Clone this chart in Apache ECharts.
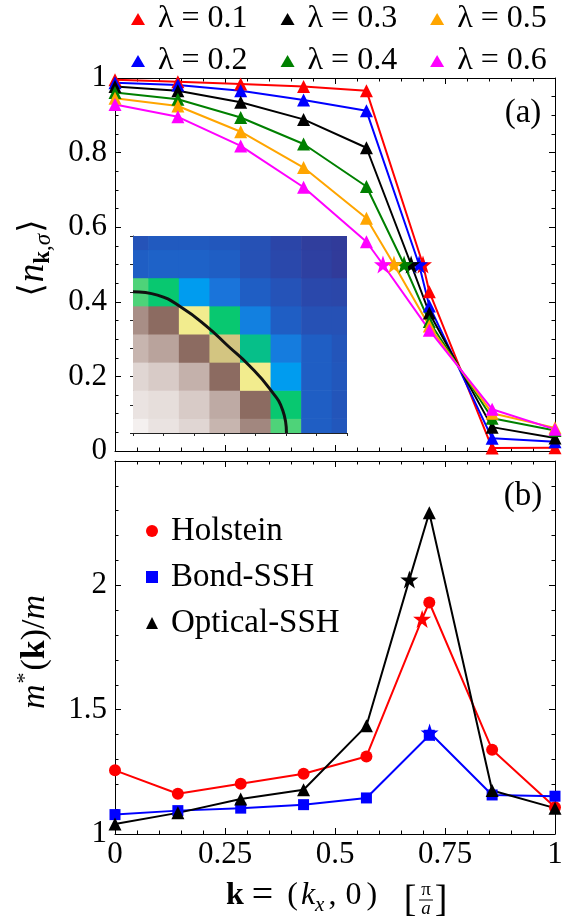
<!DOCTYPE html>
<html><head><meta charset="utf-8">
<script src="https://cdn.jsdelivr.net/npm/echarts@6/dist/echarts.min.js"></script>
<style>html,body{margin:0;padding:0;background:#fff;}#c{width:571px;height:921px;}</style>
</head><body><div id="c"></div>
<script>
// ---------- data ----------
const kGrid = [0, 1/7, 2/7, 3/7, 4/7, 5/7, 6/7, 1];
const lambdaNames = ['λ = 0.1', 'λ = 0.2', 'λ = 0.3', 'λ = 0.4', 'λ = 0.5', 'λ = 0.6'];
const nK_l01 = [0.995, 0.990, 0.984, 0.977, 0.966, 0.427, 0.008, 0.009];
const nK_l02 = [0.987, 0.981, 0.966, 0.941, 0.912, 0.389, 0.034, 0.025];
const nK_l03 = [0.977, 0.966, 0.935, 0.889, 0.813, 0.370, 0.064, 0.035];
const nK_l04 = [0.961, 0.943, 0.894, 0.823, 0.709, 0.347, 0.088, 0.055];
const nK_l05 = [0.946, 0.925, 0.856, 0.760, 0.624, 0.335, 0.101, 0.062];
const nK_l06 = [0.929, 0.896, 0.818, 0.707, 0.561, 0.324, 0.112, 0.058];
const kF_lambda = [0.700, 0.691, 0.673, 0.657, 0.634, 0.609];
const nAtKF = [0.5, 0.5, 0.5, 0.5, 0.5, 0.5];

const modelNames = ['Holstein', 'Bond-SSH', 'Optical-SSH'];
const mHolstein = [1.256, 1.162, 1.202, 1.242, 1.312, 1.931, 1.339, 1.108];
const mBondSSH = [1.078, 1.094, 1.104, 1.118, 1.145, 1.397, 1.157, 1.152];
const mOpticalSSH = [1.040, 1.085, 1.141, 1.178, 1.435, 2.292, 1.175, 1.104];
const kF_model = [0.698, 0.715, 0.669];
const mAtKF = [1.865, 1.408, 2.023];

const xTicksMain = [0, 0.25, 0.5, 0.75, 1];
const yTicksA = [0, 0.2, 0.4, 0.6, 0.8, 1];
const yTicksB = [1, 1.5, 2];

// inset: colour level of each k-point cell (rows ky = 0..7, cols kx = 0..7)
const heatLevels = [
  [0.0, 0.5, 1.0, 1.9, 2.6, 4.7, 8.0, 8.3],
  [0.5, 0.7, 1.3, 2.1, 3.0, 5.0, 8.0, 8.4],
  [1.0, 1.3, 2.0, 3.0, 4.0, 6.0, 8.0, 8.3],
  [1.9, 2.2, 3.0, 3.7, 5.2, 6.8, 8.0, 8.4],
  [2.5, 3.0, 4.0, 5.0, 6.7, 8.0, 8.6, 8.6],
  [4.7, 5.0, 6.0, 7.0, 8.0, 8.5, 9.0, 9.1],
  [8.0, 7.8, 7.8, 8.0, 8.6, 9.0, 9.6, 10.0],
  [8.5, 8.2, 8.2, 8.3, 8.6, 9.2, 9.8, 10.0]
];
const heatColors = ['#f4f0ef','#e0d6d3','#c4b1ab','#8c6b61','#f2ec8e','#08c870','#009cef','#1a74da','#1f5ec4','#2a48ab','#313b9a'];
// Fermi surface contour (grid-index units)
const fsKx = [0, 0.8, 1.6, 2.4, 3.1, 3.8, 4.45, 4.9, 5.02];
const fsKy = [5.02, 4.9, 4.45, 3.8, 3.1, 2.4, 1.6, 0.8, 0];

// ---------- chart ----------
const SERIF = "'Liberation Serif','DejaVu Serif',serif";
const STAR = 'path://M50,2 L61.8,36.2 L97.6,36.2 L68.8,57.6 L79.4,91.8 L50,70.6 L20.6,91.8 L31.2,57.6 L2.4,36.2 L38.2,36.2 Z';
const lamColors = ['#ff0000', '#0000ff', '#000000', '#008000', '#ffa500', '#ff00ff'];
const lamValues = [nK_l01, nK_l02, nK_l03, nK_l04, nK_l05, nK_l06];
const modelValues = [mHolstein, mBondSSH, mOpticalSSH];
const modelColors = ['#ff0000', '#0000ff', '#000000'];
const modelSymbols = ['circle', 'rect', 'triangle'];
const modelSizes = [12, 11, 13];

function lineData(ks, vs, kS, vS, starSize) {
  const pts = ks.map((k, i) => ({ value: [k, vs[i]] }));
  pts.push({ value: [kS, vS], symbol: STAR, symbolSize: starSize });
  pts.sort((a, b) => a.value[0] - b.value[0]);
  return pts;
}

const tickStyle = { color: '#000', width: 1 };
function frameAxis(o) {
  return Object.assign({
    type: 'value',
    splitLine: { show: false },
    axisLine: { onZero: false, lineStyle: { color: '#000', width: 1 } },
    axisTick: { inside: true, length: 6, lineStyle: tickStyle },
    axisLabel: { show: false }
  }, o);
}
const labelStyle = { show: true, fontFamily: SERIF, fontSize: 31, color: '#000' };

const xAxes = [
  frameAxis({ gridIndex: 0, position: 'bottom', min: 0, max: 1, interval: 0.25,
    minorTick: { show: true, splitNumber: 5, length: 3.5, lineStyle: tickStyle } }),
  frameAxis({ gridIndex: 0, position: 'top', min: 0, max: 1, interval: 0.25,
    minorTick: { show: true, splitNumber: 5, length: 3.5, lineStyle: tickStyle } }),
  frameAxis({ gridIndex: 1, position: 'bottom', min: 0, max: 1, interval: 0.25,
    minorTick: { show: true, splitNumber: 5, length: 3.5, lineStyle: tickStyle },
    axisLabel: Object.assign({}, labelStyle, { margin: 5,
      formatter: v => xTicksMain.some(t => Math.abs(t - v) < 1e-9) ? String(v) : '' }) }),
  frameAxis({ gridIndex: 1, position: 'top', min: 0, max: 1, interval: 0.25,
    minorTick: { show: true, splitNumber: 5, length: 3.5, lineStyle: tickStyle } }),
  { gridIndex: 2, type: 'value', min: 0, max: 7, interval: 1, position: 'bottom',
    splitLine: { show: false }, axisLabel: { show: false },
    axisLine: { onZero: false, lineStyle: { color: '#222', width: 1 } },
    axisTick: { inside: false, length: 3, lineStyle: { color: '#222', width: 1 } } }
];
const yAxes = [
  frameAxis({ gridIndex: 0, position: 'left', min: 0, max: 1, interval: 0.2,
    minorTick: { show: true, splitNumber: 4, length: 3.5, lineStyle: tickStyle },
    axisLabel: Object.assign({}, labelStyle, { margin: 8,
      formatter: v => yTicksA.some(t => Math.abs(t - v) < 1e-9) ? String(+v.toFixed(1)) : '' }) }),
  frameAxis({ gridIndex: 0, position: 'right', min: 0, max: 1, interval: 0.2,
    minorTick: { show: true, splitNumber: 4, length: 3.5, lineStyle: tickStyle } }),
  frameAxis({ gridIndex: 1, position: 'left', min: 1, max: 2.5, interval: 0.5,
    minorTick: { show: true, splitNumber: 5, length: 3.5, lineStyle: tickStyle },
    axisLabel: Object.assign({}, labelStyle, { margin: 8,
      formatter: v => yTicksB.some(t => Math.abs(t - v) < 1e-9) ? String(v) : '' }) }),
  frameAxis({ gridIndex: 1, position: 'right', min: 1, max: 2.5, interval: 0.5,
    minorTick: { show: true, splitNumber: 5, length: 3.5, lineStyle: tickStyle } }),
  { gridIndex: 2, type: 'value', min: 0, max: 7, interval: 1, position: 'left',
    splitLine: { show: false }, axisLabel: { show: false },
    axisLine: { onZero: false, lineStyle: { color: '#222', width: 1 } },
    axisTick: { inside: false, length: 3, lineStyle: { color: '#222', width: 1 } } }
];

const series = [];
// inset heat map
const heatData = [];
heatLevels.forEach((row, j) => row.forEach((lv, i) => heatData.push([i, j, lv])));
series.push({
  type: 'custom', xAxisIndex: 4, yAxisIndex: 4, z: 1, silent: true,
  encode: { x: 0, y: 1 },
  data: heatData,
  renderItem: function (params, api) {
    const i = api.value(0), j = api.value(1);
    const p0 = api.coord([i - 0.5, j + 0.5]);
    const p1 = api.coord([i + 0.5, j - 0.5]);
    const cs = params.coordSys;
    const x0 = Math.max(p0[0], cs.x), x1 = Math.min(p1[0] + 0.6, cs.x + cs.width);
    const y0 = Math.max(p0[1] - 0.6, cs.y), y1 = Math.min(p1[1], cs.y + cs.height);
    return { type: 'rect', shape: { x: x0, y: y0, width: x1 - x0, height: y1 - y0 },
      style: { fill: api.visual('color') } };
  }
});
series.push({
  type: 'line', xAxisIndex: 4, yAxisIndex: 4, z: 3, silent: true,
  data: fsKx.map((x, i) => [x, fsKy[i]]),
  smooth: true, showSymbol: false, symbol: 'none',
  lineStyle: { color: '#111', width: 3 }
});
// panel (a)
lamValues.forEach((vals, s) => {
  series.push({
    name: lambdaNames[s], type: 'line', xAxisIndex: 0, yAxisIndex: 0, z: 4,
    data: lineData(kGrid, vals, kF_lambda[s], nAtKF[s], 18),
    symbol: 'triangle', symbolSize: 13,
    itemStyle: { color: lamColors[s] },
    lineStyle: { color: lamColors[s], width: 2 }
  });
});
// panel (b)
modelValues.forEach((vals, s) => {
  series.push({
    name: modelNames[s], type: 'line', xAxisIndex: 2, yAxisIndex: 2, z: 4,
    data: lineData(kGrid, vals, kF_model[s], mAtKF[s], 18),
    symbol: modelSymbols[s], symbolSize: modelSizes[s],
    itemStyle: { color: modelColors[s] },
    lineStyle: { color: modelColors[s], width: 2 }
  });
});

const legText = { fontFamily: SERIF, fontSize: 32, color: '#000', padding: [0, 0, 0, 8], lineHeight: 34 };
const option = {
  animation: false,
  backgroundColor: '#fff',
  grid: [
    { left: 115, top: 78, width: 440, height: 373 },
    { left: 115, top: 461, width: 440, height: 373 },
    { left: 133, top: 236, width: 214, height: 197, z: 1 }
  ],
  xAxis: xAxes,
  yAxis: yAxes,
  visualMap: [{ type: 'continuous', show: false, seriesIndex: 0, dimension: 2, min: 0, max: 10,
    inRange: { color: heatColors } }],
  legend: [
    { data: [lambdaNames[0], lambdaNames[2], lambdaNames[4]], left: 126, top: -3,
      itemWidth: 14, itemHeight: 12, itemGap: 33, icon: 'triangle', selectedMode: false, textStyle: legText },
    { data: [lambdaNames[1], lambdaNames[3], lambdaNames[5]], left: 126, top: 39,
      itemWidth: 14, itemHeight: 12, itemGap: 33, icon: 'triangle', selectedMode: false, textStyle: legText },
    { data: modelNames.map((n, i) => ({ name: n, icon: modelSymbols[i] })), orient: 'vertical',
      left: 141, top: 509, itemWidth: 12, itemHeight: 12, itemGap: 12, selectedMode: false,
      textStyle: { fontFamily: SERIF, fontSize: 33, color: '#000', padding: [0, 0, 0, 8], lineHeight: 34 } }
  ],
  series: series,
  graphic: [
    { type: 'text', x: 523, y: 113, style: { text: '(a)', fontFamily: SERIF, fontSize: 33, fill: '#000', align: 'center', verticalAlign: 'middle' } },
    { type: 'text', x: 523, y: 496, style: { text: '(b)', fontFamily: SERIF, fontSize: 33, fill: '#000', align: 'center', verticalAlign: 'middle' } },
    { type: 'text', x: 33, y: 258, rotation: Math.PI / 2,
      style: { text: '{b|⟨}{n|n}{s|k}{c|,}{g|σ}{b|⟩}', align: 'center', verticalAlign: 'middle', fill: '#000',
        rich: {
          b: { fontFamily: "'DejaVu Serif','DejaVu Sans',serif", fontSize: 34, lineHeight: 44, fill: '#000', padding: [0, 1, 0, 1] },
          n: { fontFamily: SERIF, fontSize: 37, fontStyle: 'italic', lineHeight: 44, fill: '#000' },
          s: { fontFamily: SERIF, fontSize: 23, fontWeight: 'bold', verticalAlign: 'bottom', lineHeight: 23, fill: '#000' },
          c: { fontFamily: SERIF, fontSize: 23, verticalAlign: 'bottom', lineHeight: 23, fill: '#000' },
          g: { fontFamily: SERIF, fontSize: 23, fontStyle: 'italic', verticalAlign: 'bottom', lineHeight: 23, fill: '#000' }
        } } },
    { type: 'text', x: 35, y: 652, rotation: Math.PI / 2,
      style: { text: '{m|m}{sup|*}{p|(}{k|k}{p|)/}{m|m}', align: 'center', verticalAlign: 'middle', fill: '#000',
        rich: {
          m: { fontFamily: SERIF, fontSize: 34, fontStyle: 'italic', lineHeight: 42, fill: '#000' },
          sup: { fontFamily: SERIF, fontSize: 22, verticalAlign: 'top', lineHeight: 22, fill: '#000', padding: [0, 2, 0, 1] },
          p: { fontFamily: SERIF, fontSize: 34, lineHeight: 42, fill: '#000' },
          k: { fontFamily: SERIF, fontSize: 34, fontWeight: 'bold', lineHeight: 42, fill: '#000' }
        } } },
    { type: 'text', x: 226, y: 896,
      style: { text: '{kb|k}{eq|=}{t|(}{ki|k}{sx|x}{cm|,}{t|0}{t2|)}', align: 'left', verticalAlign: 'middle', fill: '#000',
        rich: {
          kb: { fontFamily: SERIF, fontSize: 32, fontWeight: 'bold', lineHeight: 40, fill: '#000' },
          eq: { fontFamily: SERIF, fontSize: 38, lineHeight: 40, fill: '#000', padding: [0, 14, 0, 8] },
          t: { fontFamily: SERIF, fontSize: 32, lineHeight: 40, fill: '#000', padding: [0, 3, 0, 0] },
          t2: { fontFamily: SERIF, fontSize: 32, lineHeight: 40, fill: '#000', padding: [0, 0, 0, 2] },
          ki: { fontFamily: SERIF, fontSize: 32, fontStyle: 'italic', lineHeight: 40, fill: '#000' },
          sx: { fontFamily: SERIF, fontSize: 21, fontStyle: 'italic', verticalAlign: 'bottom', lineHeight: 21, fill: '#000' },
          cm: { fontFamily: SERIF, fontSize: 32, lineHeight: 40, fill: '#000', padding: [0, 9, 0, 4] }
        } } },
    { type: 'text', x: 410, y: 901, style: { text: '[', fontFamily: SERIF, fontSize: 38, fill: '#000', align: 'center', verticalAlign: 'middle' } },
    { type: 'text', x: 441, y: 901, style: { text: ']', fontFamily: SERIF, fontSize: 38, fill: '#000', align: 'center', verticalAlign: 'middle' } },
    { type: 'text', x: 426, y: 890, style: { text: 'π', fontFamily: SERIF, fontSize: 19, fill: '#000', align: 'center', verticalAlign: 'middle' } },
    { type: 'line', shape: { x1: 419, y1: 900, x2: 433, y2: 900 }, style: { stroke: '#000', lineWidth: 1 } },
    { type: 'text', x: 426, y: 909, style: { text: 'a', fontFamily: SERIF, fontSize: 19, fontStyle: 'italic', fill: '#000', align: 'center', verticalAlign: 'middle' } }
  ]
};
const chart = echarts.init(document.getElementById('c'));
chart.setOption(option);
</script>
</body></html>
